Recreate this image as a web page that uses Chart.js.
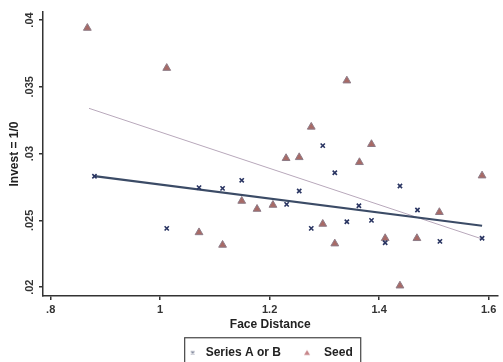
<!DOCTYPE html>
<html>
<head>
<meta charset="utf-8">
<script src="https://cdn.jsdelivr.net/npm/chart.js@4.4.1/dist/chart.umd.min.js"></script>
<style>
html, body { margin: 0; padding: 0; background: #fff; }
#wrap { width: 503px; height: 362px; }
</style>
</head>
<body>
<div id="wrap"><canvas id="grafico"></canvas></div>
<script>
var xTicks = [0.8, 1, 1.2, 1.4, 1.6];
var xTickLabels = ['.8', '1', '1.2', '1.4', '1.6'];
var yTicks = [0.02, 0.025, 0.03, 0.035, 0.04];
var yTickLabels = ['.02', '.025', '.03', '.035', '.04'];

// Series A or B (x markers)
var seriesAX = [0.88, 1.012, 1.071, 1.114, 1.149, 1.231, 1.254, 1.276, 1.297, 1.319, 1.341, 1.363, 1.386, 1.411, 1.438, 1.470, 1.511, 1.588];
var seriesAY = [0.0283, 0.0244, 0.02745, 0.0274, 0.0280, 0.0262, 0.0272, 0.0244, 0.0306, 0.02857, 0.0249, 0.0261, 0.0250, 0.02333, 0.02757, 0.02578, 0.02343, 0.02366];

// Seed (triangles)
var seedX = [0.867, 1.012, 1.071, 1.114, 1.149, 1.177, 1.206, 1.230, 1.254, 1.276, 1.297, 1.319, 1.341, 1.364, 1.386, 1.411, 1.438, 1.469, 1.510, 1.588];
var seedY = [0.0394, 0.0364, 0.0241, 0.02316, 0.02645, 0.02585, 0.02615, 0.02965, 0.02972, 0.0320, 0.02473, 0.02326, 0.03546, 0.02935, 0.0307, 0.02366, 0.02011, 0.02366, 0.02561, 0.02835];

// fitted lines (end points)
var fitAX = [0.88, 1.588];
var fitAY = [0.02832, 0.0246];
var fitSeedX = [0.870, 1.588];
var fitSeedY = [0.03339, 0.02361];

function toPoints(xs, ys) {
    return xs.map(function (x, i) { return { x: x, y: ys[i] }; });
}

// small legend marks (the legend ones are smaller and lighter than the plot ones)
function markCanvas(kind) {
    var c = document.createElement('canvas');
    var g;
    if (kind === 'x') {
        // drawn right of centre so the mark clears the legend frame
        c.width = 18; c.height = 10;
        g = c.getContext('2d');
        g.strokeStyle = '#737a90';
        g.lineWidth = 1.2;
        g.beginPath();
        g.moveTo(11.5, 3.5); g.lineTo(14.5, 6.5);
        g.moveTo(14.5, 3.5); g.lineTo(11.5, 6.5);
        g.stroke();
    } else {
        c.width = 10; c.height = 10;
        g = c.getContext('2d');
        g.fillStyle = '#c7868a';
        g.beginPath();
        g.moveTo(5, 2.2); g.lineTo(8, 7.3); g.lineTo(2, 7.3);
        g.closePath();
        g.fill();
    }
    return c;
}
var legendMarks = [markCanvas('x'), markCanvas('tri')];

Chart.defaults.font.family = "'Liberation Sans', Arial, sans-serif";
Chart.defaults.color = '#333';

var legendBox = {
    id: 'legendBox',
    afterLayout: function (chart) {
        // legend sits a bit left of the plot centre in the original
        if (chart.legend) {
            chart.legend.left -= 5;
            chart.legend.right -= 5;
        }
    },
    afterDraw: function (chart) {
        var lg = chart.legend;
        if (!lg || !lg.legendHitBoxes || !lg.legendHitBoxes.length) return;
        var hb = lg.legendHitBoxes;
        var first = hb[0], last = hb[hb.length - 1];
        var ctx = chart.ctx;
        var left = first.left + 7;
        var right = last.left + last.width + 8;
        ctx.save();
        ctx.strokeStyle = '#444';
        ctx.lineWidth = 1.2;
        ctx.strokeRect(left, first.top - 9, right - left, 40);
        ctx.restore();
    }
};

new Chart(document.getElementById('grafico'), {
    type: 'scatter',
    data: {
        datasets: [{
            label: 'Series A or B',
            data: toPoints(seriesAX, seriesAY),
            pointStyle: 'crossRot',
            pointRadius: 3,
            borderColor: '#2a3562',
            backgroundColor: '#2a3562',
            pointBorderWidth: 1.6
        }, {
            label: 'Seed',
            data: toPoints(seedX, seedY),
            pointStyle: 'triangle',
            pointRadius: 4.5,
            borderColor: '#8e7c88',
            backgroundColor: '#a86a66',
            pointBorderWidth: 1
        }, {
            label: 'fitA',
            data: toPoints(fitAX, fitAY),
            showLine: true,
            pointRadius: 0,
            borderColor: '#3b4b66',
            borderWidth: 2.2
        }, {
            label: 'fitSeed',
            data: toPoints(fitSeedX, fitSeedY),
            showLine: true,
            pointRadius: 0,
            borderColor: '#b8a8bb',
            borderWidth: 1
        }]
    },
    options: {
        responsive: true,
        maintainAspectRatio: false,
        animation: false,
        layout: { padding: { top: 12, left: 0, right: 0, bottom: -6.75 } },
        scales: {
            x: {
                type: 'linear',
                min: 0.786,
                max: 1.616,
                afterBuildTicks: function (scale) {
                    scale.ticks = xTicks.map(function (v) { return { value: v }; });
                },
                afterFit: function (scale) { scale.height = 35.75; },
                ticks: {
                    font: { size: 11, weight: 'bold' },
                    padding: 3,
                    color: '#333',
                    callback: function (v) { return xTickLabels[xTicks.indexOf(v)]; }
                },
                grid: { drawOnChartArea: false, drawTicks: true, tickLength: 4, color: '#333', lineWidth: 1.5 },
                border: { display: true, color: '#333', width: 1.5 },
                title: {
                    display: true,
                    text: 'Face Distance',
                    font: { size: 12, weight: 'bold' },
                    color: '#222',
                    padding: { top: 0, bottom: 0 }
                }
            },
            y: {
                type: 'linear',
                min: 0.01934,
                max: 0.0406,
                afterBuildTicks: function (scale) {
                    scale.ticks = yTicks.map(function (v) { return { value: v }; });
                },
                afterFit: function (scale) { scale.width = 43; },
                ticks: {
                    font: { size: 11, weight: 'bold' },
                    minRotation: 90,
                    maxRotation: 90,
                    crossAlign: 'center',
                    padding: -1.7,
                    color: '#333',
                    callback: function (v) { return yTickLabels[yTicks.indexOf(v)]; }
                },
                grid: { drawOnChartArea: false, drawTicks: true, tickLength: 4, color: '#333', lineWidth: 1.5 },
                border: { display: true, color: '#333', width: 1.5 },
                title: {
                    display: true,
                    text: 'Invest = 1/0',
                    font: { size: 12, weight: 'bold' },
                    color: '#222',
                    padding: { top: 7, bottom: 0 }
                }
            }
        },
        plugins: {
            legend: {
                display: true,
                position: 'bottom',
                fullSize: false,
                labels: {
                    usePointStyle: true,
                    pointStyleWidth: 22,
                    boxHeight: 5,
                    padding: 15,
                    color: '#222',
                    font: { size: 12, weight: 'bold' },
                    generateLabels: function (chart) {
                        var items = Chart.defaults.plugins.legend.labels.generateLabels(chart);
                        items.forEach(function (it) {
                            if (legendMarks[it.datasetIndex]) it.pointStyle = legendMarks[it.datasetIndex];
                        });
                        return items;
                    },
                    filter: function (item) { return item.datasetIndex < 2; }
                }
            },
            tooltip: { enabled: false }
        }
    },
    plugins: [legendBox]
});
</script>
</body>
</html>
